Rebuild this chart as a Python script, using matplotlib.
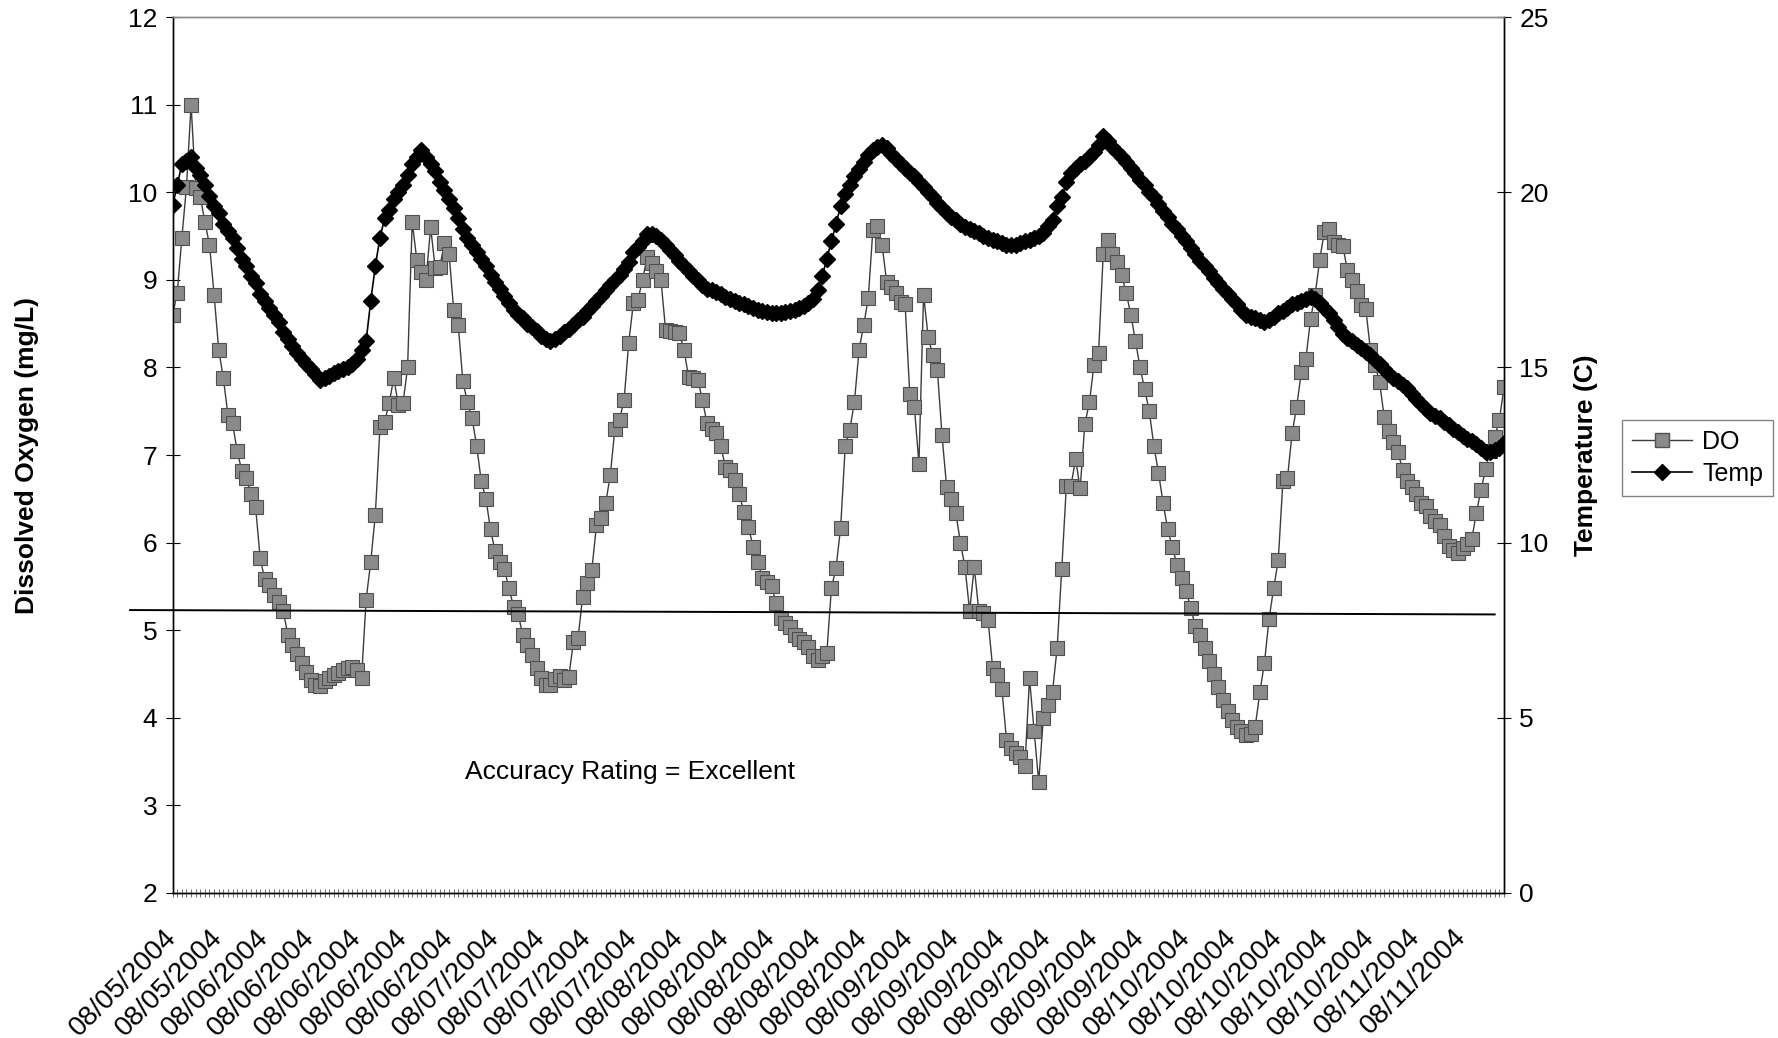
import matplotlib
matplotlib.use('Agg')
from matplotlib import pyplot as plt
from matplotlib import font_manager
from matplotlib.lines import Line2D
import matplotlib.transforms as mtransforms

# 溶解氧 (mg/L)
do_values = [
    8.60, 8.85, 9.48, 10.06, 11.00, 10.05, 9.95, 9.66, 9.40, 8.83,
    8.20, 7.88, 7.46, 7.36, 7.05, 6.82, 6.74, 6.55, 6.41, 5.82,
    5.58, 5.52, 5.40, 5.32, 5.22, 4.95, 4.83, 4.73, 4.63, 4.52,
    4.43, 4.38, 4.36, 4.42, 4.46, 4.49, 4.51, 4.54, 4.57, 4.58,
    4.55, 4.45, 5.35, 5.78, 6.32, 7.32, 7.38, 7.59, 7.88, 7.57,
    7.59, 8.00, 9.66, 9.23, 9.09, 9.00, 9.60, 9.13, 9.15, 9.42,
    9.30, 8.66, 8.48, 7.84, 7.60, 7.42, 7.10, 6.70, 6.50, 6.15,
    5.90, 5.78, 5.70, 5.48, 5.27, 5.18, 4.95, 4.83, 4.72, 4.57,
    4.45, 4.38, 4.38, 4.44, 4.48, 4.43, 4.47, 4.87, 4.91, 5.38,
    5.54, 5.69, 6.20, 6.28, 6.45, 6.77, 7.30, 7.40, 7.63, 8.28,
    8.73, 8.77, 9.00, 9.26, 9.19, 9.10, 9.00, 8.43, 8.42, 8.40,
    8.39, 8.20, 7.89, 7.88, 7.86, 7.63, 7.36, 7.30, 7.25, 7.10,
    6.86, 6.83, 6.71, 6.55, 6.35, 6.18, 5.95, 5.78, 5.60, 5.55,
    5.50, 5.31, 5.14, 5.08, 5.04, 4.95, 4.90, 4.87, 4.81, 4.70,
    4.66, 4.70, 4.74, 5.48, 5.71, 6.17, 7.10, 7.29, 7.61, 8.20,
    8.48, 8.79, 9.57, 9.62, 9.40, 8.97, 8.92, 8.85, 8.75, 8.72,
    7.70, 7.55, 6.90, 8.83, 8.35, 8.14, 7.97, 7.23, 6.64, 6.50,
    6.34, 6.00, 5.72, 5.22, 5.72, 5.22, 5.20, 5.12, 4.57, 4.49,
    4.33, 3.75, 3.66, 3.60, 3.55, 3.45, 4.45, 3.85, 3.27, 4.00,
    4.15, 4.30, 4.80, 5.70, 6.65, 6.65, 6.95, 6.62, 7.35, 7.60,
    8.03, 8.17, 9.30, 9.45, 9.30, 9.20, 9.05, 8.85, 8.60, 8.30,
    8.00, 7.75, 7.50, 7.10, 6.80, 6.45, 6.15, 5.95, 5.75, 5.60,
    5.45, 5.25, 5.05, 4.95, 4.80, 4.65, 4.50, 4.35, 4.20, 4.08,
    3.97, 3.90, 3.85, 3.80, 3.82, 3.90, 4.29, 4.63, 5.13, 5.48,
    5.80, 6.70, 6.74, 7.25, 7.55, 7.95, 8.10, 8.55, 8.83, 9.23,
    9.55, 9.58, 9.43, 9.40, 9.39, 9.11, 9.00, 8.87, 8.71, 8.67,
    8.20, 8.03, 7.83, 7.43, 7.27, 7.15, 7.03, 6.83, 6.70, 6.63,
    6.55, 6.45, 6.42, 6.30, 6.25, 6.20, 6.08, 5.96, 5.92, 5.88,
    5.94, 5.98, 6.04, 6.34, 6.60, 6.84, 7.05, 7.21, 7.40, 7.78,
]

# 水温 (C)
temp_values = [
    19.63, 20.20, 20.80, 20.90, 21.00, 20.70, 20.50, 20.20, 19.90, 19.60,
    19.40, 19.10, 18.90, 18.70, 18.40, 18.10, 17.90, 17.60, 17.40, 17.10,
    16.90, 16.70, 16.50, 16.30, 16.00, 15.80, 15.60, 15.40, 15.25, 15.10,
    14.95, 14.80, 14.65, 14.70, 14.75, 14.85, 14.90, 14.95, 15.00, 15.10,
    15.25, 15.50, 15.75, 16.90, 17.90, 18.70, 19.25, 19.50, 19.80, 20.00,
    20.20, 20.50, 20.80, 21.00, 21.20, 21.00, 20.80, 20.60, 20.30, 20.05,
    19.80, 19.55, 19.25, 18.95, 18.70, 18.50, 18.30, 18.10, 17.90, 17.65,
    17.45, 17.25, 17.05, 16.85, 16.65, 16.50, 16.40, 16.25, 16.15, 16.05,
    15.90, 15.80, 15.75, 15.80, 15.90, 16.00, 16.10, 16.20, 16.35, 16.45,
    16.60, 16.75, 16.90, 17.05, 17.20, 17.35, 17.50, 17.65, 17.80, 18.00,
    18.30, 18.45, 18.60, 18.80, 18.80, 18.75, 18.65, 18.50, 18.35, 18.20,
    18.05, 17.90, 17.75, 17.60, 17.50, 17.35, 17.25, 17.20, 17.15, 17.10,
    17.00, 16.95, 16.90, 16.85, 16.80, 16.75, 16.70, 16.65, 16.60, 16.58,
    16.56, 16.55, 16.55, 16.58, 16.60, 16.65, 16.70, 16.75, 16.85, 16.95,
    17.20, 17.60, 18.10, 18.60, 19.10, 19.60, 19.95, 20.20, 20.45, 20.65,
    20.85, 21.05, 21.20, 21.30, 21.35, 21.25, 21.10, 20.95, 20.80, 20.70,
    20.55, 20.45, 20.30, 20.15, 20.00, 19.85, 19.70, 19.55, 19.40, 19.30,
    19.20, 19.10, 19.00, 18.95, 18.90, 18.85, 18.75, 18.70, 18.65, 18.60,
    18.55, 18.50, 18.50, 18.50, 18.55, 18.60, 18.65, 18.70, 18.75, 18.85,
    19.05, 19.20, 19.60, 19.85, 20.30, 20.55, 20.70, 20.80, 20.90, 21.00,
    21.15, 21.35, 21.60, 21.45, 21.30, 21.15, 21.00, 20.85, 20.70, 20.55,
    20.35, 20.20, 20.00, 19.85, 19.65, 19.45, 19.30, 19.10, 18.95, 18.75,
    18.60, 18.40, 18.25, 18.05, 17.90, 17.75, 17.55, 17.40, 17.25, 17.10,
    16.95, 16.80, 16.65, 16.50, 16.45, 16.40, 16.35, 16.30, 16.35, 16.45,
    16.55, 16.60, 16.70, 16.80, 16.85, 16.90, 16.95, 17.00, 16.95, 16.85,
    16.70, 16.55, 16.35, 16.15, 15.95, 15.85, 15.75, 15.65, 15.55, 15.45,
    15.35, 15.20, 15.10, 14.95, 14.80, 14.70, 14.60, 14.50, 14.40, 14.25,
    14.10, 13.95, 13.80, 13.70, 13.60, 13.55, 13.45, 13.35, 13.25, 13.15,
    13.05, 12.95, 12.90, 12.80, 12.70, 12.60, 12.60, 12.65, 12.70, 12.85,
]

# 每 10 个点一个日期标签
date_labels = [
    '08/05/2004', '08/05/2004',
    '08/06/2004', '08/06/2004', '08/06/2004', '08/06/2004', '08/06/2004',
    '08/07/2004', '08/07/2004', '08/07/2004', '08/07/2004',
    '08/08/2004', '08/08/2004', '08/08/2004', '08/08/2004', '08/08/2004',
    '08/09/2004', '08/09/2004', '08/09/2004', '08/09/2004', '08/09/2004', '08/09/2004',
    '08/10/2004', '08/10/2004', '08/10/2004', '08/10/2004', '08/10/2004',
    '08/11/2004', '08/11/2004',
]
label_step = 10

do_ticks = list(range(2, 13))
temp_ticks = [0, 5, 10, 15, 20, 25]

# 字体
names = {f.name for f in font_manager.fontManager.ttflist}
narrow = 'Liberation Sans Narrow' if 'Liberation Sans Narrow' in names else 'Liberation Sans'
plt.rcParams['font.family'] = ['Liberation Sans', 'DejaVu Sans']

n = len(do_values)
x = list(range(n))

fig = plt.figure(figsize=(17.78, 10.38), dpi=100)
ax = fig.add_axes([0.0971, 0.1397, 0.7488, 0.8439])

ax.plot(x, do_values, '-', color='#3c3c3c', linewidth=1.0, marker='s', markersize=10,
        markerfacecolor='#8a8a8a', markeredgecolor='#505050', markeredgewidth=0.8, zorder=3)
ax.set_xlim(0, n - 1)
ax.set_ylim(2, 12)
ax.set_yticks(do_ticks)
ax.set_yticklabels([str(v) for v in do_ticks], fontsize=19, family=narrow)

tick_labels = [''] * n
for k, lab in enumerate(date_labels):
    tick_labels[k * label_step] = lab
ax.set_xticks(x)
ax.set_xticklabels(tick_labels, rotation=45, ha='right', va='center', rotation_mode='anchor',
                   fontsize=20, family=narrow)
ax.tick_params(axis='x', direction='inout', length=6, width=0.6, color='#555555', pad=26)
ax.tick_params(axis='y', direction='inout', length=10, width=0.8, pad=6)
ax.set_ylabel('Dissolved Oxygen (mg/L)', fontsize=19, fontweight='bold', labelpad=64)

# 5 mg/L 附近的参考线
blend = mtransforms.blended_transform_factory(ax.transAxes, ax.transData)
ax.plot([-0.032, 0.993], [5.23, 5.18], color='black', linewidth=1.4, transform=blend,
        clip_on=False, zorder=5)
ax.text(0.3435, 3.38, 'Accuracy Rating = Excellent', transform=blend, ha='center',
        va='center', fontsize=19)

ax2 = ax.twinx()
ax2.plot(x, temp_values, '-', color='black', linewidth=1.2, marker='D', markersize=8,
         markerfacecolor='black', markeredgecolor='black', zorder=3)
ax2.set_ylim(0, 25)
ax2.set_yticks(temp_ticks)
ax2.set_yticklabels([str(v) for v in temp_ticks], fontsize=19, family=narrow)
ax2.tick_params(axis='y', direction='inout', length=10, width=0.8, pad=6)
ax2.set_ylabel('Temperature (C)', fontsize=19, fontweight='bold', labelpad=18)

for a in (ax, ax2):
    a.spines['top'].set_color('#8c8c8c')
    a.spines['top'].set_linewidth(1.0)
    for s in ('left', 'right', 'bottom'):
        a.spines[s].set_linewidth(1.0)

handles = [
    Line2D([], [], color='#3c3c3c', linewidth=1.0, marker='s', markersize=10,
           markerfacecolor='#8a8a8a', markeredgecolor='#505050'),
    Line2D([], [], color='black', linewidth=1.2, marker='D', markersize=8,
           markerfacecolor='black', markeredgecolor='black'),
]
leg = fig.legend(handles, ['DO', 'Temp'], loc='center', bbox_to_anchor=(0.955, 0.559),
                 fontsize=18, frameon=True, fancybox=False, edgecolor='#666666',
                 handlelength=2.4, borderpad=0.4, labelspacing=0.3, handletextpad=0.4)
leg.get_frame().set_linewidth(1.0)

fig.savefig('out.png', dpi=100)
